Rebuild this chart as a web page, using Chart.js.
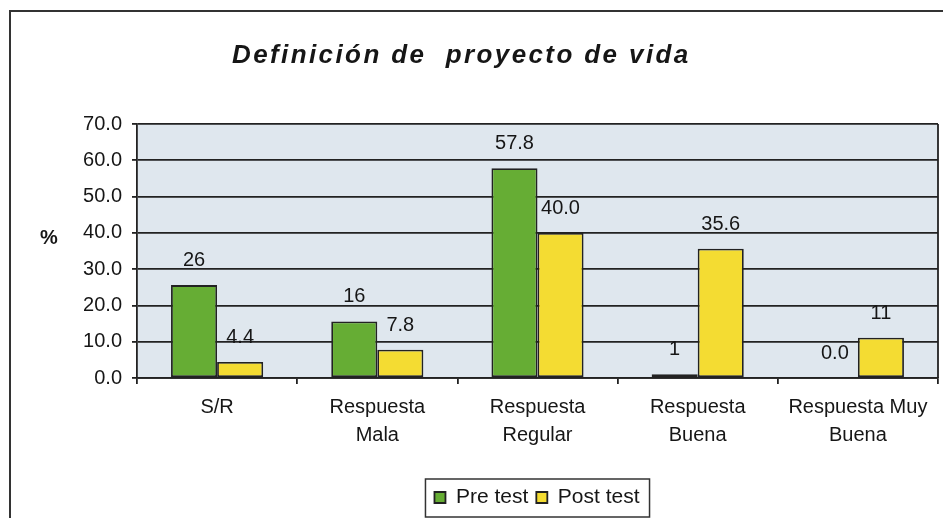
<!DOCTYPE html>
<html>
<head>
<meta charset="utf-8">
<script src="https://cdn.jsdelivr.net/npm/chart.js@4.4.1/dist/chart.umd.min.js"></script>
<style>
  html, body { margin: 0; padding: 0; background: #ffffff; }
  #wrap { width: 943px; height: 518px; }
</style>
</head>
<body>
<div id="wrap"><canvas id="c" width="943" height="518"></canvas></div>
<script>
const titleText = 'Definición de  proyecto de vida';
const yAxisLabel = '%';
const categories = [['S/R'], ['Respuesta', 'Mala'], ['Respuesta', 'Regular'], ['Respuesta', 'Buena'], ['Respuesta Muy', 'Buena']];
const seriesNames = ['Pre test', 'Post test'];
const preTest = [25.6, 15.6, 57.8, 1.0, 0.0];
const postTest = [4.4, 7.8, 40.0, 35.6, 11.1];
const preLabels = ['26', '16', '57.8', '1', '0.0'];
const postLabels = ['4.4', '7.8', '40.0', '35.6', '11'];
const yMin = 0, yMax = 70, yStep = 10;

const FONT = "'Liberation Sans', Arial, sans-serif";
const INK = '#161616';
const GRID = '#222222';

const decorPlugin = {
  id: 'decor',
  beforeDraw(chart) {
    const { ctx, chartArea: a } = chart;
    ctx.save();
    ctx.fillStyle = '#dfe7ee';
    ctx.fillRect(a.left, a.top, a.right - a.left, a.bottom - a.top);
    ctx.restore();
  },
  afterLayout(chart) {
    const lg = chart.legend;
    if (lg) {
      const shift = 537 - (lg.left + lg.right) / 2;
      lg.left += shift;
      lg.right += shift;
    }
  },
  afterDatasetsDraw(chart) {
    const { ctx } = chart;
    const labelSets = [preLabels, postLabels];
    ctx.save();
    ctx.font = '20px ' + FONT;
    ctx.fillStyle = INK;
    ctx.textAlign = 'center';
    ctx.textBaseline = 'alphabetic';
    chart.data.datasets.forEach((ds, i) => {
      const meta = chart.getDatasetMeta(i);
      meta.data.forEach((bar, j) => {
        ctx.fillText(labelSets[i][j], bar.x, bar.y - 19);
      });
    });
    ctx.restore();
  },
  afterDraw(chart) {
    const { ctx, chartArea: a } = chart;
    ctx.save();
    // right border of plot area
    ctx.strokeStyle = GRID;
    ctx.lineWidth = 1.8;
    ctx.beginPath();
    ctx.moveTo(a.right, a.top);
    ctx.lineTo(a.right, a.bottom);
    ctx.stroke();
    // outer frame (top and left)
    ctx.strokeStyle = '#333';
    ctx.lineWidth = 2;
    ctx.beginPath();
    ctx.moveTo(10, 518);
    ctx.lineTo(10, 11);
    ctx.lineTo(943, 11);
    ctx.stroke();
    // title
    ctx.fillStyle = INK;
    ctx.font = 'italic bold 26px ' + FONT;
    ctx.textAlign = 'left';
    ctx.textBaseline = 'alphabetic';
    try { ctx.letterSpacing = '2.4px'; } catch (e) {}
    ctx.fillText(titleText, 232, 63);
    try { ctx.letterSpacing = '0px'; } catch (e) {}
    // y axis label
    ctx.font = 'bold 20px ' + FONT;
    ctx.textAlign = 'center';
    ctx.textBaseline = 'middle';
    ctx.fillText(yAxisLabel, 49, 238);
    // legend border
    const lg = chart.legend;
    if (lg && lg.legendHitBoxes && lg.legendHitBoxes.length) {
      let l = Infinity, r = -Infinity;
      lg.legendHitBoxes.forEach(h => { l = Math.min(l, h.left); r = Math.max(r, h.left + h.width); });
      ctx.strokeStyle = '#333';
      ctx.lineWidth = 1.5;
      ctx.strokeRect(l - 9, lg.top, (r - l) + 19, lg.bottom - lg.top - 1);
    }
    ctx.restore();
  }
};

new Chart(document.getElementById('c'), {
  type: 'bar',
  data: {
    labels: categories,
    datasets: [
      { label: seriesNames[0], data: preTest, backgroundColor: '#66ad34', borderColor: '#222222', borderWidth: 1.8, borderSkipped: false },
      { label: seriesNames[1], data: postTest, backgroundColor: '#f4dc32', borderColor: '#222222', borderWidth: 1.8, borderSkipped: false }
    ]
  },
  options: {
    responsive: false,
    animation: false,
    devicePixelRatio: 1,
    layout: { padding: { top: 124, left: 0, right: 5, bottom: 0 } },
    datasets: { bar: { categoryPercentage: 0.575, barPercentage: 1.0 } },
    plugins: {
      title: { display: false },
      tooltip: { enabled: false },
      legend: {
        display: true,
        position: 'bottom',
        labels: {
          color: INK,
          font: { family: FONT, size: 21 },
          boxWidth: 11,
          boxHeight: 11,
          padding: 8
        }
      }
    },
    scales: {
      x: {
        grid: { display: true, drawOnChartArea: false, drawTicks: true, tickLength: 6, color: GRID, lineWidth: 1.8, offset: true },
        border: { display: true, color: GRID, width: 1.8 },
        ticks: { color: INK, font: { family: FONT, size: 20, lineHeight: 1.4 }, padding: 9, maxRotation: 0, autoSkip: false },
        afterFit(axis) { axis.height = 101; }
      },
      y: {
        min: yMin,
        max: yMax,
        ticks: { stepSize: yStep, color: INK, font: { family: FONT, size: 20 }, padding: 10, callback: v => Number(v).toFixed(1) },
        grid: { color: GRID, lineWidth: 1.8, drawTicks: true, tickLength: 5 },
        border: { display: true, color: GRID, width: 1.8 },
        afterFit(axis) { axis.width = 137; }
      }
    }
  },
  plugins: [decorPlugin]
});
</script>
</body>
</html>
